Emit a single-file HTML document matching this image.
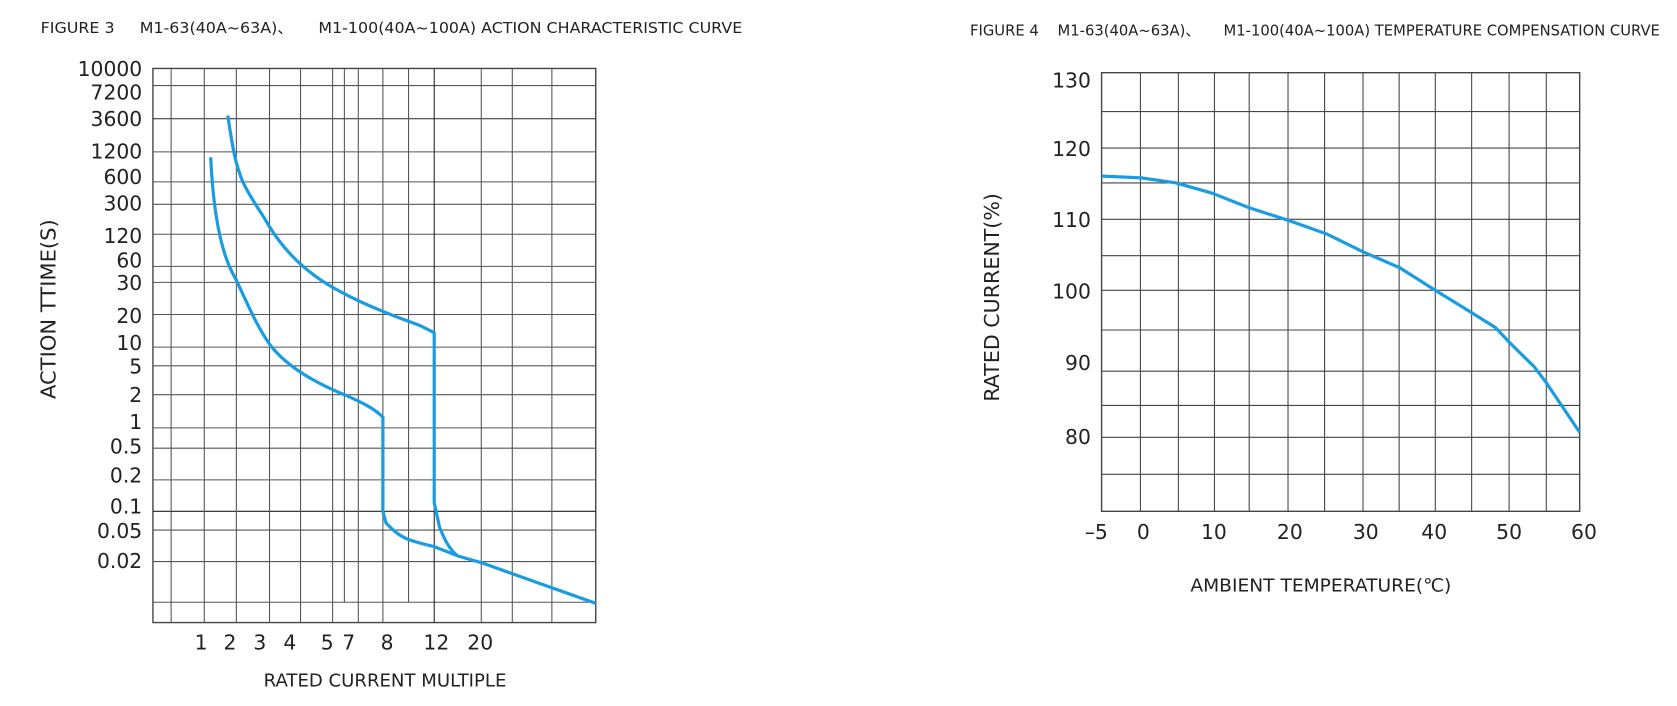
<!DOCTYPE html>
<html><head><meta charset="utf-8"><style>
html,body{margin:0;padding:0;background:#fff;width:1677px;height:706px;overflow:hidden}
svg{display:block}
text{font-family:"DejaVu Sans","Liberation Sans",sans-serif;fill:#222}
</style></head><body>
<svg width="1677" height="706" viewBox="0 0 1568 660" preserveAspectRatio="none" xmlns="http://www.w3.org/2000/svg">
<text x="38" y="31" font-size="14" textLength="656" lengthAdjust="spacingAndGlyphs">FIGURE 3 &#160;&#160;&#160;&#160;M1-63(40A~63A)、 &#160;&#160;&#160;&#160;M1-100(40A~100A) ACTION CHARACTERISTIC CURVE</text>
<g stroke="#555" stroke-width="1" fill="none">
<rect x="143" y="64" width="414" height="518" stroke="#444" stroke-width="1.3"/>
<path d="M143 80H557M143 142H557M143 170H557M143 191H557M143 219H557M143 249H557M143 264H557M143 294H557M143 324.5H557M143 342H557M143 369H557M143 400H557M143 419H557M143 448.6H557M143 495.5H557M143 525H557M143 563H557"/>
<path stroke="#222" d="M143 111H557M143 478H557"/>
<path d="M160 64V582M191 64V582M221 64V582M252 64V582M281 64V582M311 64V582M335 64V582M358 64V582M450 64V582M479 64V582M516 64V582M322 64V563M382 64V563"/>
<path stroke="#222" d="M406 64V582"/>
</g>
<g font-size="19" text-anchor="end">
<text x="133" y="71">10000</text><text x="133" y="93">7200</text><text x="133" y="118">3600</text><text x="133" y="148">1200</text><text x="133" y="172">600</text><text x="133" y="197">300</text><text x="133" y="227">120</text><text x="133" y="250">60</text><text x="133" y="271">30</text><text x="133" y="302">20</text><text x="133" y="327">10</text><text x="133" y="349">5</text><text x="133" y="376">2</text><text x="133" y="401">1</text><text x="133" y="424">0.5</text><text x="133" y="451">0.2</text><text x="133" y="480">0.1</text><text x="133" y="503">0.05</text><text x="133" y="531">0.02</text>
</g>
<g font-size="19" text-anchor="middle">
<text x="188" y="607">1</text><text x="215" y="607">2</text><text x="243" y="607">3</text><text x="271" y="607">4</text><text x="306" y="607">5</text><text x="326" y="607">7</text><text x="362" y="607">8</text><text x="408" y="607">12</text><text x="449" y="607">20</text>
</g>
<text x="360" y="642" font-size="16.5" text-anchor="middle" textLength="227" lengthAdjust="spacingAndGlyphs">RATED CURRENT MULTIPLE</text>
<text transform="translate(52,289) rotate(-90)" font-size="19.5" text-anchor="middle" textLength="168" lengthAdjust="spacingAndGlyphs">ACTION TTIME(S)</text>
<g fill="none" stroke="#1a9de0" stroke-width="3" stroke-linejoin="round">
<path d="M197 147C199 190 205 235 220 260C232 285 240 305 253 323C270 345 300 360 322 369C340 377 350 382 358 390L358 478L361 489C368 496 372 500 381 504C392 508 398 509 406 511L429 520L450 526L557 564"/>
<path d="M213 108C217 135 220 155 228 172C236 188 244 198 252 212C268 238 290 258 319 273C345 287 375 298 392 304L406 311L406 470L411 493C416 505 420 513 427 519"/>
</g>

<text x="907" y="33" font-size="14" textLength="645" lengthAdjust="spacingAndGlyphs">FIGURE 4 &#160;&#160;&#160;M1-63(40A~63A)、 &#160;&#160;&#160;&#160;M1-100(40A~100A) TEMPERATURE COMPENSATION CURVE</text>
<g stroke="#444" stroke-width="1" fill="none">
<path d="M1030 68H1477V478H1030Z" stroke-width="1.3"/>
<path d="M1030 104.3H1477M1030 138.4H1477M1030 171H1477M1030 205H1477M1030 239H1477M1030 271.4H1477M1030 308.5H1477M1030 347H1477M1030 379H1477M1030 408.8H1477M1030 443.4H1477"/>
<path d="M1066.3 68V478M1101.8 68V478M1135.5 68V478M1168 68V478M1204.3 68V478M1238.5 68V478M1274.4 68V478M1308.2 68V478M1342 68V478M1376 68V478M1411 68V478M1445.8 68V478"/>
</g>
<g font-size="19" text-anchor="end">
<text x="1020" y="82">130</text><text x="1020" y="146">120</text><text x="1020" y="212">110</text><text x="1020" y="279">100</text><text x="1020" y="346">90</text><text x="1020" y="415">80</text>
</g>
<g font-size="19" text-anchor="middle">
<text x="1025" y="504">–5</text><text x="1069" y="504">0</text><text x="1135" y="504">10</text><text x="1206" y="504">20</text><text x="1277" y="504">30</text><text x="1341" y="504">40</text><text x="1411" y="504">50</text><text x="1481" y="504">60</text>
</g>
<text x="1235" y="553" font-size="17" text-anchor="middle" textLength="244" lengthAdjust="spacingAndGlyphs">AMBIENT TEMPERATURE(℃)</text>
<text transform="translate(934,278) rotate(-90)" font-size="19" text-anchor="middle" textLength="195" lengthAdjust="spacingAndGlyphs">RATED CURRENT(%)</text>
<path fill="none" stroke="#1a9de0" stroke-width="3" stroke-linejoin="round" d="M1030 164.6L1067.2 166.3L1099.3 170.9L1133.4 180.6L1167.6 194.1L1204.3 205.9L1240.2 218.6L1274.4 235.4L1308.6 250.2L1341.9 271.3L1376.1 292.4L1398.3 306.3L1411.1 319.8L1434.6 343L1445.8 357.8L1477 404.2"/>
</svg>
</body></html>
